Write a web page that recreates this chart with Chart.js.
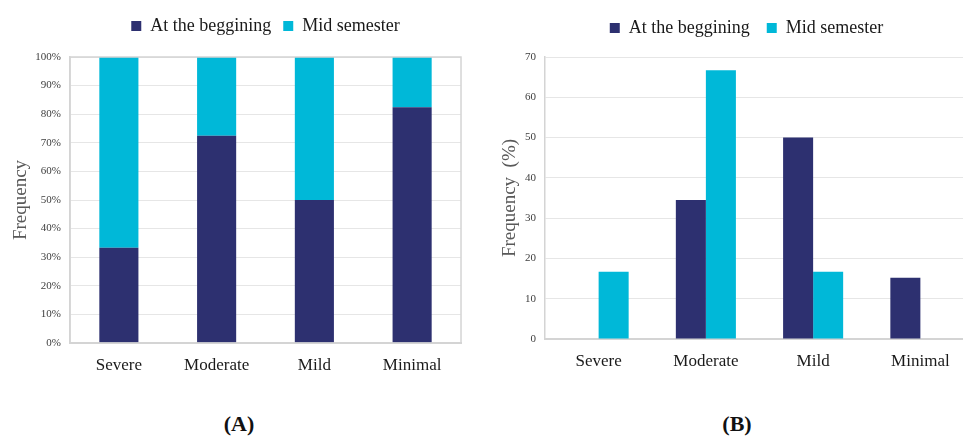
<!DOCTYPE html>
<html>
<head>
<meta charset="utf-8">
<script src="https://cdn.jsdelivr.net/npm/chart.js@4/dist/chart.umd.min.js"></script>
<style>
  body { margin: 0; width: 963px; height: 440px; overflow: hidden; background: #fff; position: relative; font-family: "Liberation Serif", serif; }
  #boxA { position: absolute; left: 0; top: 0; width: 480px; height: 380px; }
  #boxB { position: absolute; left: 480px; top: 0; width: 520px; height: 380px; }
  .cap { position: absolute; top: 411px; width: 80px; text-align: center; font-weight: bold; font-size: 22px; color: #111; }
</style>
</head>
<body>
<div id="boxA"><canvas id="chartA" width="480" height="380"></canvas></div>
<div id="boxB"><canvas id="chartB" width="520" height="380"></canvas></div>
<div class="cap" style="left:199px">(A)</div>
<div class="cap" style="left:697px">(B)</div>
<script>
// Severity levels and the two survey rounds
const categories = ['Severe', 'Moderate', 'Mild', 'Minimal'];
const seriesNames = ['At the beggining', 'Mid semester'];

// (A) share of each level, stacked to 100%
const shareBeginning = [33.3, 72.5, 50.0, 82.4];
const shareMid = [66.7, 27.5, 50.0, 17.6];

// (B) frequency in percent
const freqBeginning = [0, 34.5, 50.0, 15.2];
const freqMid = [16.7, 66.7, 16.7, 0];

const NAVY = '#2D3070';
const CYAN = '#00B8D8';
const GRID = '#E6E6E6';
const AXIS = '#D4D4D4';
const FONT = '"Liberation Serif", serif';

Chart.defaults.font.family = FONT;
Chart.defaults.color = '#262626';

// outline around the plot area (chart A has a full frame)
const plotFrame = {
    id: 'plotFrame',
    afterDraw(chart) {
        const a = chart.chartArea;
        const ctx = chart.ctx;
        ctx.save();
        ctx.strokeStyle = AXIS;
        ctx.lineWidth = 1.5;
        ctx.strokeRect(a.left, a.top, a.right - a.left, a.bottom - a.top);
        ctx.restore();
    }
};

// fix the legend block height and nudge it sideways
function legendBlock(height, shiftX) {
    return {
        id: 'legendBlock',
        beforeLayout(chart) {
            const lg = chart.legend;
            if (lg && !lg._fixed) {
                const fit = lg.fit;
                lg.fit = function () { fit.call(this); this.height = height; };
                lg._fixed = true;
            }
        },
        afterLayout(chart) {
            if (chart.legend && shiftX) {
                chart.legend.left += shiftX;
                chart.legend.right += shiftX;
            }
        }
    };
}

function legendOptions(gap) {
    return {
        position: 'top',
        fullSize: false,
        labels: {
            boxWidth: 10,
            boxHeight: 10,
            padding: gap,
            color: '#1a1a1a',
            font: { size: 18 }
        }
    };
}

function xAxis(height, pad) {
    return {
        grid: { display: false, drawTicks: false },
        border: { color: AXIS, width: 2 },
        ticks: { padding: pad, color: '#1a1a1a', font: { size: 17 } },
        afterFit(scale) { scale.height = height; }
    };
}

function yAxis(width, titleText, max, suffix, titlePad) {
    return {
        min: 0,
        max: max,
        grid: { color: GRID, lineWidth: 1, drawTicks: false },
        border: { color: AXIS, width: 1.5 },
        ticks: {
            stepSize: 10,
            padding: 9,
            color: '#404040',
            font: { size: 11 },
            callback: (v) => v + suffix
        },
        title: {
            display: true,
            text: titleText,
            color: '#595959',
            font: { size: 19 },
            padding: { top: titlePad, bottom: 0 }
        },
        afterFit(scale) { scale.width = width; }
    };
}

// (A) 100% stacked bars
const xA = xAxis(37, 12);
xA.stacked = true;
const yA = yAxis(70, 'Frequency', 100, '%', 10);
yA.stacked = true;

new Chart(document.getElementById('chartA'), {
    type: 'bar',
    data: {
        labels: categories,
        datasets: [
            { label: seriesNames[0], data: shareBeginning, backgroundColor: NAVY },
            { label: seriesNames[1], data: shareMid, backgroundColor: CYAN }
        ]
    },
    options: {
        responsive: false,
        animation: false,
        categoryPercentage: 0.4,
        barPercentage: 1.0,
        layout: { padding: { top: 5, right: 19, left: 0, bottom: 0 } },
        plugins: {
            legend: legendOptions(12),
            tooltip: { enabled: false }
        },
        scales: { x: xA, y: yA }
    },
    plugins: [plotFrame, legendBlock(52, 0)]
});

// (B) grouped bars
new Chart(document.getElementById('chartB'), {
    type: 'bar',
    data: {
        labels: categories,
        datasets: [
            { label: seriesNames[0], data: freqBeginning, backgroundColor: NAVY },
            { label: seriesNames[1], data: freqMid, backgroundColor: CYAN }
        ]
    },
    options: {
        responsive: false,
        animation: false,
        categoryPercentage: 0.56,
        barPercentage: 1.0,
        layout: { padding: { top: 2, right: 26, left: 0, bottom: 0 } },
        plugins: {
            legend: legendOptions(17),
            tooltip: { enabled: false }
        },
        scales: {
            x: xAxis(41, 12),
            y: yAxis(65, 'Frequency  (%)', 70, '', 19)
        }
    },
    plugins: [legendBlock(55, -13)]
});
</script>
</body>
</html>
